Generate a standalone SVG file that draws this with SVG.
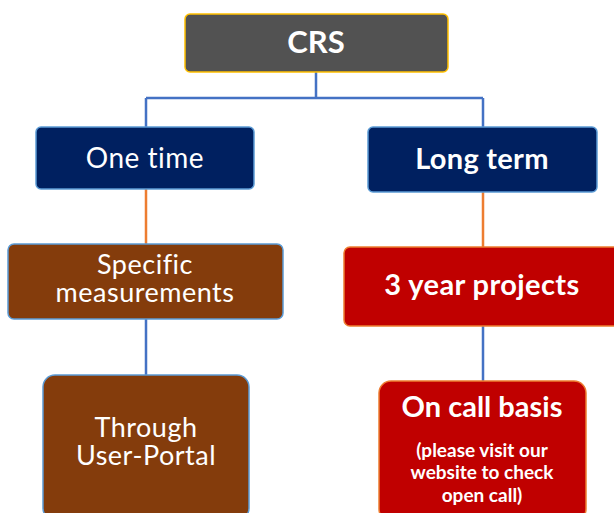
<svg xmlns="http://www.w3.org/2000/svg" width="614" height="513" viewBox="0 0 614 513">
<style>
.t{font-family:Lato,"Open Sans","Liberation Sans",sans-serif;fill:#fff;text-anchor:middle}
.b{font-weight:bold}
.blue{stroke:#4472C4;stroke-width:2.5;fill:none}
.orange{stroke:#ED7D31;stroke-width:2.5;fill:none}
</style>
<rect width="614" height="513" fill="#fff"/>
<g id="connectors">
<path class="blue" d="M316 72V98M146 98H483M146 98V127M483 98V127"/>
<path class="orange" d="M146 189V244M483 192V247"/>
<path class="blue" d="M146 319V375M483 326V381"/>
</g>
<g id="crs">
<rect x="185" y="14" width="263" height="58" rx="5" fill="#525252" stroke="#FFC000" stroke-width="1.5"/>
<text class="t b" x="316" y="53" font-size="31">CRS</text>
</g>
<g id="one-time">
<rect x="36" y="127" width="218" height="62" rx="5" fill="#002060" stroke="#5B9BD5" stroke-width="1.5"/>
<text class="t" x="145" y="168" font-size="28" letter-spacing="0.5">One time</text>
</g>
<g id="long-term">
<rect x="368" y="127" width="229" height="65" rx="5" fill="#002060" stroke="#5B9BD5" stroke-width="1.5"/>
<text class="t b" x="482" y="169" font-size="29" letter-spacing="0.3">Long term</text>
</g>
<g id="specific">
<rect x="8" y="244" width="275" height="75" rx="6" fill="#843C0C" stroke="#5B9BD5" stroke-width="1.5"/>
<text class="t" font-size="27" letter-spacing="0.5"><tspan x="145" y="274">Specific</tspan><tspan x="145" y="302">measurements</tspan></text>
</g>
<g id="three-year">
<rect x="344" y="247" width="280" height="79" rx="6" fill="#C00000" stroke="#ED7D31" stroke-width="1.5"/>
<text class="t b" x="482" y="295" font-size="29" letter-spacing="0.4">3 year projects</text>
</g>
<g id="through">
<rect x="43" y="375" width="206" height="145" rx="12" fill="#843C0C" stroke="#5B9BD5" stroke-width="1.5"/>
<text class="t" font-size="27" letter-spacing="0.5"><tspan x="146" y="437">Through</tspan><tspan x="146" y="465">User-Portal</tspan></text>
</g>
<g id="on-call">
<rect x="379" y="381" width="207" height="140" rx="12" fill="#C00000" stroke="#ED7D31" stroke-width="1.5"/>
<text class="t b" x="482" y="417" font-size="29">On call basis</text>
<text class="t b" font-size="19"><tspan x="482" y="457">(please visit our</tspan><tspan x="482" y="479">website to check</tspan><tspan x="482" y="502">open call)</tspan></text>
</g>
</svg>
